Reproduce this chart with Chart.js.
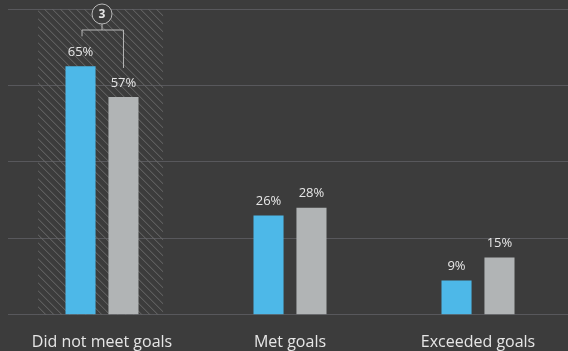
<!DOCTYPE html>
<html>
<head>
<meta charset="utf-8">
<script src="https://cdn.jsdelivr.net/npm/chart.js@4/dist/chart.umd.min.js"></script>
<style>
  html, body { margin: 0; padding: 0; background: #3c3c3c; overflow: hidden; }
  #wrap { width: 572px; height: 370px; }
</style>
</head>
<body>
<div id="wrap"><canvas id="chart"></canvas></div>
<script>
const categories = ['Did not meet goals', 'Met goals', 'Exceeded goals'];
const seriesA = [65, 26, 9];
const seriesB = [57, 28, 15];
const yTicks = [0, 20, 40, 60, 80];
const calloutLabel = '3';

const TEXT = '#e6e6e6';
const GRID = '#58585c';

// hatched box behind the first group
const hatchPlugin = {
  id: 'hatch',
  beforeDatasetsDraw(chart) {
    const { ctx, chartArea, scales } = chart;
    const x = scales.x;
    const cw = x.getPixelForValue(1) - x.getPixelForValue(0);
    const cx = x.getPixelForValue(0);
    const left = cx - 0.34 * cw, right = cx + 0.325 * cw;
    ctx.save();
    ctx.beginPath();
    ctx.rect(left, chartArea.top, right - left, chartArea.bottom - chartArea.top);
    ctx.clip();
    ctx.strokeStyle = '#6a6a6a';
    ctx.lineWidth = 1;
    const h = chartArea.bottom - chartArea.top;
    for (let s = left - h; s < right; s += 8) {
      ctx.beginPath();
      ctx.moveTo(s, chartArea.top);
      ctx.lineTo(s + h, chartArea.bottom);
      ctx.stroke();
    }
    ctx.restore();
  }
};

// value labels + bracket callout
const labelPlugin = {
  id: 'labels',
  afterDatasetsDraw(chart) {
    const { ctx } = chart;
    ctx.save();
    ctx.font = '13px "Open Sans"';
    ctx.fillStyle = TEXT;
    ctx.textAlign = 'center';
    ctx.textBaseline = 'middle';
    chart.data.datasets.forEach((ds, i) => {
      chart.getDatasetMeta(i).data.forEach((bar, j) => {
        ctx.fillText(ds.data[j] + '%', bar.x, bar.y - 14);
      });
    });

    const a = chart.getDatasetMeta(0).data[0];
    const b = chart.getDatasetMeta(1).data[0];
    const top = chart.chartArea.top;
    const by = top + 21;
    ctx.strokeStyle = '#b8b8b8';
    ctx.lineWidth = 1;
    ctx.beginPath();
    ctx.moveTo(a.x + 1.5, a.y - 30);
    ctx.lineTo(a.x + 1.5, by);
    ctx.lineTo(b.x, by);
    ctx.lineTo(b.x, b.y - 29);
    const mx = (a.x + b.x) / 2;
    ctx.moveTo(mx, by);
    ctx.lineTo(mx, top + 15);
    ctx.stroke();
    ctx.beginPath();
    ctx.arc(mx, top + 5, 10, 0, Math.PI * 2);
    ctx.fillStyle = '#3c3c3c';
    ctx.fill();
    ctx.stroke();
    ctx.fillStyle = TEXT;
    ctx.font = 'bold 12px "Open Sans"';
    ctx.fillText(calloutLabel, mx, top + 5.5);
    ctx.restore();
  }
};

new Chart(document.getElementById('chart'), {
  type: 'bar',
  data: {
    labels: categories,
    datasets: [
      { data: seriesA, backgroundColor: '#4db8e8', categoryPercentage: 0.457, barPercentage: 0.7 },
      { data: seriesB, backgroundColor: '#b1b4b5', categoryPercentage: 0.457, barPercentage: 0.7 }
    ]
  },
  options: {
    responsive: true,
    maintainAspectRatio: false,
    animation: false,
    layout: { padding: { left: 8, top: 9, right: 0, bottom: 0 } },
    plugins: { legend: { display: false }, tooltip: { enabled: false } },
    scales: {
      x: {
        grid: { display: false, drawTicks: false },
        border: { display: false },
        ticks: { color: TEXT, font: { family: 'Open Sans', size: 16 }, padding: 18, maxRotation: 0 }
      },
      y: {
        min: 0,
        max: 80,
        afterBuildTicks(axis) { axis.ticks = yTicks.map(v => ({ value: v })); },
        grid: { color: GRID, lineWidth: 1, drawTicks: false },
        border: { display: false },
        ticks: { display: false }
      }
    }
  },
  plugins: [hatchPlugin, labelPlugin]
});
</script>
</body>
</html>
